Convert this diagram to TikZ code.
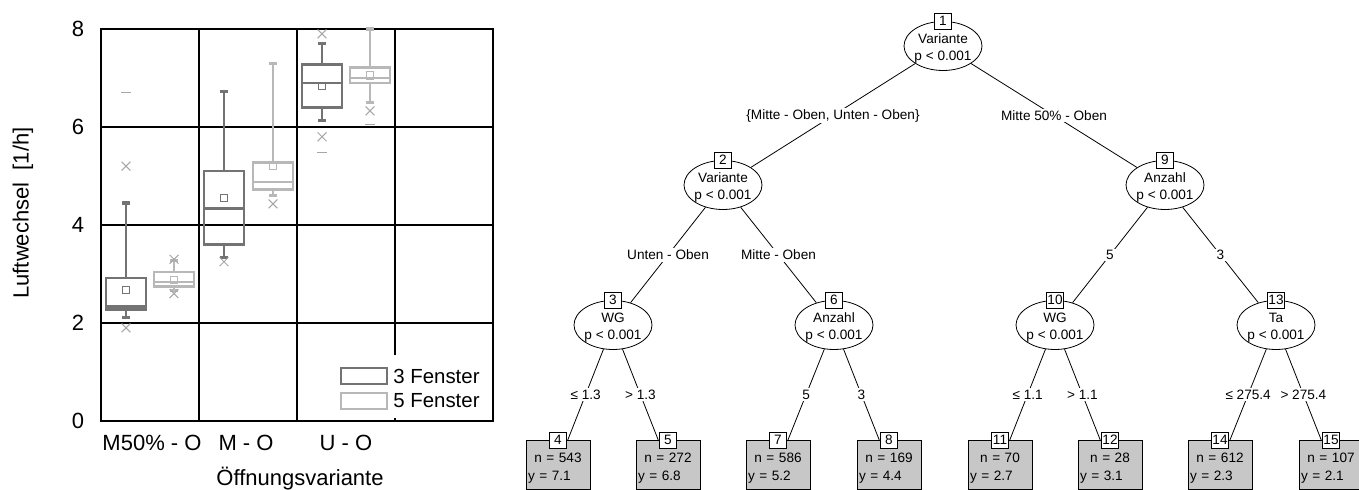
\documentclass[tikz,border=0pt]{standalone}
\usepackage{fontspec}
\setmainfont{Liberation Sans}
\usepackage{tikz}
\usetikzlibrary{shapes.geometric}

\colorlet{darkbox}{black!55}
\colorlet{lightbox}{black!28}
\colorlet{outl}{black!35}

\begin{document}
\begin{tikzpicture}[x=0.5pt, y=-0.5pt,
  treefont/.style={font=\fontsize{6.8}{8.5}\selectfont},
  plotfont/.style={font=\fontsize{11}{13}\selectfont},
  splitnode/.style={ellipse, draw, thin, fill=white, inner sep=0pt, minimum width=39pt, minimum height=24.5pt},
  splittext/.style={treefont, align=center, inner sep=0pt},
  idbox/.style={draw, thin, fill=white, treefont, inner sep=0pt, minimum width=8.5pt, minimum height=8pt},
  leafnode/.style={draw, thin, fill=black!22, font=\fontsize{6.8}{9}\selectfont, align=left, text width=30pt, inner xsep=1pt, inner ysep=3pt, anchor=north, execute at begin node={\rule{0pt}{8pt}}},
  edgelabel/.style={fill=white, treefont, inner sep=0.8pt}]
\useasboundingbox (0,0) rectangle (1359,490);
\clip (0,0) rectangle (1359,490);

%%%%% Boxplot %%%%%
\begin{scope}[shift={(101,421)}, x=0.5pt, y=24.5pt]
\foreach \v in {2,4,6}{
\draw[line width=0.8pt] (0,\v)--(392,\v);
}
\foreach \i in {98,196,294}{
\draw[line width=0.8pt] (\i,0)--(\i,8);
}
\draw[line width=1pt] (0,0) rectangle (392,8);
\foreach \v in {0,2,...,8}{
\node[plotfont] (tick\v) at (-23,\v) {\v};
}
% boxes: centre / q1 / median / q3 / lower / upper / mean / colour
\foreach \xc/\qa/\md/\qb/\wa/\wb/\mn/\col in {
 25/2.28/2.34/2.92/2.12/4.45/2.67/darkbox, 123/3.6/4.34/5.1/3.33/6.73/4.55/darkbox,
 221/6.4/6.9/7.27/6.14/7.7/6.84/darkbox, 73/2.74/2.84/3.04/2.67/3.28/2.88/lightbox,
 172/4.73/4.88/5.28/4.6/7.3/5.2/lightbox, 269/6.9/7.0/7.22/6.5/8/7.05/lightbox}{
\draw[\col, line width=1.3pt] (\xc,\wa)--(\xc,\qa) (\xc,\qb)--(\xc,\wb);
\draw[\col, line width=1.6pt] (\xc-4,\wa)--(\xc+4,\wa) (\xc-4,\wb)--(\xc+4,\wb);
\draw[\col, line width=1.3pt] (\xc-20,\qa) rectangle (\xc+20,\qb);
\draw[\col, line width=1.3pt] (\xc-20,\md)--(\xc+20,\md);
\draw[\col, line width=0.5pt] (\xc,\mn) ++(-1.8pt,-1.8pt) rectangle ++(3.6pt,3.6pt);
}
% outliers
\foreach \xc/\v in {25/1.9, 25/5.2, 123/3.25, 221/7.9, 221/5.8, 73/3.3, 73/2.6, 172/4.43, 269/6.33}{
\draw[outl, line width=0.5pt] (\xc,\v) ++(-2.2pt,-2.2pt)--++(4.4pt,4.4pt) ++(-4.4pt,0)--++(4.4pt,-4.4pt);
}
\foreach \xc/\v in {25/6.7, 221/5.47, 269/6.06}{
\draw[outl, line width=0.5pt] (\xc,\v) ++(-2.5pt,0)--++(5pt,0);
}
\end{scope}

%%%%% Legend and axis labels %%%%%
\fill[white] (335,355) rectangle (489,418);
\draw[darkbox, line width=1.3pt] (341,368) rectangle (387,384);
\draw[lightbox, line width=1.3pt] (341,393) rectangle (387,409);
\node[anchor=west, font=\fontsize{10.2}{12}\selectfont, inner sep=0pt] (leg3) at (393,376) {3 Fenster};
\node[anchor=west, font=\fontsize{10.2}{12}\selectfont, inner sep=0pt] (leg5) at (393,401) {5 Fenster};
\node[plotfont] (xlab1) at (152,443) {M50\% - O};
\node[plotfont] (xlab2) at (246,443) {M - O};
\node[plotfont] (xlab3) at (346,443) {U - O};
\node[plotfont] (xtitle) at (300,479) {Öffnungsvariante};
\node[plotfont, rotate=90] (ytitle) at (23,213) {Luftwechsel\ \ [1/h]};

%%%%% Tree %%%%%
\node[splitnode] (e1) at (943,46) {};
\node[splitnode] (e2) at (723,185) {};
\node[splitnode] (e9) at (1165,185) {};
\node[splitnode] (e3) at (613,325) {};
\node[splitnode] (e6) at (834,325) {};
\node[splitnode] (e10) at (1055,325) {};
\node[splitnode] (e13) at (1276,325) {};
\node[splittext] (t1) at ([yshift=-1.2pt]e1.center) {Variante\\p < 0.001};
\node[splittext] (t2) at ([yshift=-1.2pt]e2.center) {Variante\\p < 0.001};
\node[splittext] (t9) at ([yshift=-1.2pt]e9.center) {Anzahl\\p < 0.001};
\node[splittext] (t3) at ([yshift=-1.2pt]e3.center) {WG\\p < 0.001};
\node[splittext] (t6) at ([yshift=-1.2pt]e6.center) {Anzahl\\p < 0.001};
\node[splittext] (t10) at ([yshift=-1.2pt]e10.center) {WG\\p < 0.001};
\node[splittext] (t13) at ([yshift=-1.2pt]e13.center) {Ta\\p < 0.001};
\node[leafnode] (l4) at (558,440) {\makebox[30pt]{n = 543}\\y = 7.1};
\node[leafnode] (l5) at (668,440) {\makebox[30pt]{n = 272}\\y = 6.8};
\node[leafnode] (l7) at (778,440) {\makebox[30pt]{n = 586}\\y = 5.2};
\node[leafnode] (l8) at (889,440) {\makebox[30pt]{n = 169}\\y = 4.4};
\node[leafnode] (l11) at (1000,440) {\makebox[30pt]{n = 70}\\y = 2.7};
\node[leafnode] (l12) at (1110,440) {\makebox[30pt]{n = 28}\\y = 3.1};
\node[leafnode] (l14) at (1220,440) {\makebox[30pt]{n = 612}\\y = 2.3};
\node[leafnode] (l15) at (1331,440) {\makebox[30pt]{n = 107}\\y = 2.1};

\draw[thin] (e1) -- node[edgelabel] (s12) {\{Mitte - Oben, Unten - Oben\}} (e2);
\draw[thin] (e1) -- node[edgelabel] (s19) {Mitte 50\% - Oben} (e9);
\draw[thin] (e2) -- node[edgelabel] (s23) {Unten - Oben} (e3);
\draw[thin] (e2) -- node[edgelabel] (s26) {Mitte - Oben} (e6);
\draw[thin] (e9) -- node[edgelabel] (s910) {5} (e10);
\draw[thin] (e9) -- node[edgelabel] (s913) {3} (e13);
\draw[thin] (e3) -- node[edgelabel] (s34) {≤ 1.3} (l4);
\draw[thin] (e3) -- node[edgelabel] (s35) {> 1.3} (l5);
\draw[thin] (e6) -- node[edgelabel] (s67) {5} (l7);
\draw[thin] (e6) -- node[edgelabel] (s68) {3} (l8);
\draw[thin] (e10) -- node[edgelabel] (s1011) {≤ 1.1} (l11);
\draw[thin] (e10) -- node[edgelabel] (s1012) {> 1.1} (l12);
\draw[thin] (e13) -- node[edgelabel] (s1314) {≤ 275.4} (l14);
\draw[thin] (e13) -- node[edgelabel] (s1315) {> 275.4} (l15);

\foreach \n in {1,2,9,3,6,10,13}{
\node[idbox] (id\n) at (e\n.north) {\n};
}
\foreach \n in {4,5,7,8,11,12,14,15}{
\node[idbox] (id\n) at (l\n.north) {\n};
}
\end{tikzpicture}
\end{document}
